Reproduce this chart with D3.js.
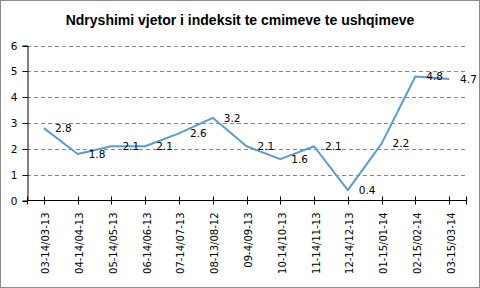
<!DOCTYPE html>
<html><head><meta charset="utf-8">
<script src="https://cdn.jsdelivr.net/npm/d3@7"></script>
<style>body{margin:0;background:#fff}svg{display:block}</style>
</head><body>
<svg id="c" width="480" height="288"></svg>
<script>
const categories = ["03-14/03-13","04-14/04-13","05-14/05-13","06-14/06-13","07-14/07-13","08-13/08-12","09-4/09-13","10-14/10-13","11-14/11-13","12-14/12-13","01-15/01-14","02-15/02-14","03-15/03-14"];
const values = [2.8,1.8,2.1,2.1,2.6,3.2,2.1,1.6,2.1,0.4,2.2,4.8,4.7];
const yTicks = [0,1,2,3,4,5,6];
const title = "Ndryshimi vjetor i indeksit te cmimeve te ushqimeve";

(function(){
const svg = d3.select("#c");
const W=480,H=288;
svg.append("rect").attr("x",0.5).attr("y",0.5).attr("width",W-1).attr("height",H-1)
  .attr("fill","#fff").attr("stroke","#8c8c8c");

const pL=27, pR=466, pT=45.5, pB=200.5;
const x = d3.scaleBand().domain(categories).range([pL,pR]);
const y = d3.scaleLinear().domain([0,6]).range([pB,pT]);
const cx = d => x(d)+x.bandwidth()/2;
const font = "DejaVu Sans, Verdana, sans-serif";

svg.append("text").attr("x",240).attr("y",25).attr("text-anchor","middle")
  .attr("font-family","Liberation Sans, Arial, sans-serif").attr("font-weight","bold")
  .attr("font-size",14).attr("fill","#000").text(title);

// gridlines
svg.append("g").selectAll("line").data(yTicks.filter(v=>v>0)).join("line")
  .attr("x1",pL).attr("x2",pR).attr("y1",d=>Math.round(y(d))+0.5).attr("y2",d=>Math.round(y(d))+0.5)
  .attr("stroke","#868686").attr("stroke-dasharray","4,3");

// y axis
const ya = svg.append("g").attr("transform",`translate(${pL+0.5},0)`)
  .call(d3.axisLeft(y).tickValues(yTicks).tickSize(5).tickPadding(5).tickFormat(d3.format("d")));
ya.select(".domain").attr("stroke","#000");
ya.selectAll(".tick line").attr("stroke","#000");
ya.selectAll("text").attr("font-family",font).attr("font-size",10.5).attr("fill","#000");
ya.selectAll(".tick").attr("transform",d=>`translate(0,${Math.round(y(d))+0.5})`);

// x axis
const xa = svg.append("g").attr("transform",`translate(0,${pB})`);
xa.append("line").attr("x1",pL).attr("x2",pR).attr("stroke","#000");
const tickXs = [pL, ...categories.map(cx), pR];
xa.selectAll("line.t").data(tickXs).join("line").attr("class","t")
  .attr("x1",d=>Math.round(d)+0.5).attr("x2",d=>Math.round(d)+0.5).attr("y1",-4).attr("y2",4).attr("stroke","#000");
xa.selectAll("text").data(categories).join("text")
  .attr("transform",d=>`translate(${cx(d)+2},${12}) rotate(-90)`)
  .attr("dy","0.35em").attr("text-anchor","end")
  .attr("font-family",font).attr("font-size",10).attr("fill","#000").text(d=>d);

// line
const line = d3.line().x((d,i)=>cx(categories[i])).y(d=>y(d));
svg.append("path").datum(values).attr("d",line).attr("fill","none")
  .attr("stroke","#5b9bd5").attr("stroke-width",2).attr("stroke-linejoin","round");

// labels
svg.append("g").selectAll("text").data(values).join("text")
  .attr("x",(d,i)=>cx(categories[i])+11).attr("y",d=>y(d)).attr("dy","0.35em")
  .attr("font-family",font).attr("font-size",10.5).attr("fill","#000").text(d=>d.toFixed(1));
})();
</script>
</body></html>
